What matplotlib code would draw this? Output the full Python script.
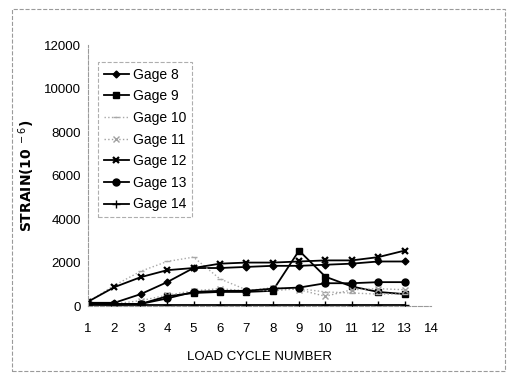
import matplotlib.pyplot as plt
from matplotlib.patches import Rectangle

plt.rcParams['font.family'] = ['Liberation Sans Narrow', 'Liberation Sans', 'DejaVu Sans']

cycles = list(range(1, 14))

gage8 = [150, 150, 550, 1100, 1750, 1750, 1800, 1850, 1850, 1900, 1950, 2050, 2050]
gage9 = [100, 50, 100, 450, 600, 650, 650, 700, 2550, 1350, 900, 650, 550]
gage10 = [200, 950, 1600, 2050, 2250, 1250, 750, 700, 800, 650, 600, 550, 550]
gage11 = [100, 100, 250, 500, 700, 800, 700, 850, 750, 450, 750, 800, 750]
gage12 = [200, 870, 1330, 1650, 1750, 1950, 2000, 2000, 2050, 2100, 2100, 2250, 2550]
gage13 = [100, 100, 100, 350, 650, 700, 700, 800, 850, 1050, 1050, 1100, 1100]
gage14 = [60, 60, 60, 60, 60, 60, 60, 60, 60, 60, 60, 60, 60]

labels = ['Gage 8', 'Gage 9', 'Gage 10', 'Gage 11', 'Gage 12', 'Gage 13', 'Gage 14']

fig = plt.figure(figsize=(5.1, 3.76), dpi=100)
ax = fig.add_axes([0.1725, 0.186, 0.6725, 0.694])

# рамка вокруг всей диаграммы
fig.patches.append(Rectangle((0.024, 0.013), 0.966, 0.962, transform=fig.transFigure,
                             fill=False, edgecolor='#9a9a9a', linestyle='--', linewidth=0.8))

ax.plot(cycles, gage8, color='black', marker='D', markersize=3.5, linewidth=1.3, label=labels[0])
ax.plot(cycles, gage9, color='black', marker='s', markersize=4.5, linewidth=1.3, label=labels[1])
ax.plot(cycles, gage10, color='#a8a8a8', marker='_', markersize=5, linestyle=':', linewidth=1.0,
        label=labels[2])
ax.plot(cycles, gage11, color='#a0a0a0', marker='x', markersize=4, linestyle=':', linewidth=1.0,
        label=labels[3])
ax.plot(cycles, gage12, color='black', marker='x', markersize=5, markeredgewidth=1.6, linewidth=1.3,
        label=labels[4])
ax.plot(cycles, gage13, color='black', marker='o', markersize=5, linewidth=1.3, label=labels[5])
ax.plot(cycles, gage14, color='black', marker='+', markersize=6, linewidth=1.3, label=labels[6])

ax.set_xlim(1, 14)
ax.set_ylim(0, 12000)
ax.set_xticks(range(1, 15))
ax.set_yticks(range(0, 12001, 2000))
ax.tick_params(axis='y', labelsize=9.5, length=0, pad=5)
ax.tick_params(axis='x', labelsize=9.5, length=0, pad=12)

for side in ['top', 'right']:
    ax.spines[side].set_visible(False)
ax.spines['left'].set_color('#9a9a9a')
ax.spines['left'].set_linestyle('--')
ax.spines['left'].set_linewidth(0.8)
ax.spines['bottom'].set_color('#9a9a9a')
ax.spines['bottom'].set_linestyle('--')
ax.spines['bottom'].set_linewidth(0.8)

ax.set_ylabel('STRAIN(10$^{\\ -6}$)', fontsize=10, fontweight='bold', family='DejaVu Sans', labelpad=5)
ax.set_xlabel('LOAD CYCLE NUMBER', fontsize=9.5, labelpad=12)

leg = ax.legend(loc='upper left', bbox_to_anchor=(0.03, 0.935), fontsize=10, frameon=True,
                fancybox=False, handlelength=1.8, handletextpad=0.3, borderpad=0.4,
                labelspacing=0.55, borderaxespad=0)
leg.get_frame().set_edgecolor('#9a9a9a')
leg.get_frame().set_linestyle('--')
leg.get_frame().set_linewidth(0.8)

fig.savefig('out.png', dpi=100)
